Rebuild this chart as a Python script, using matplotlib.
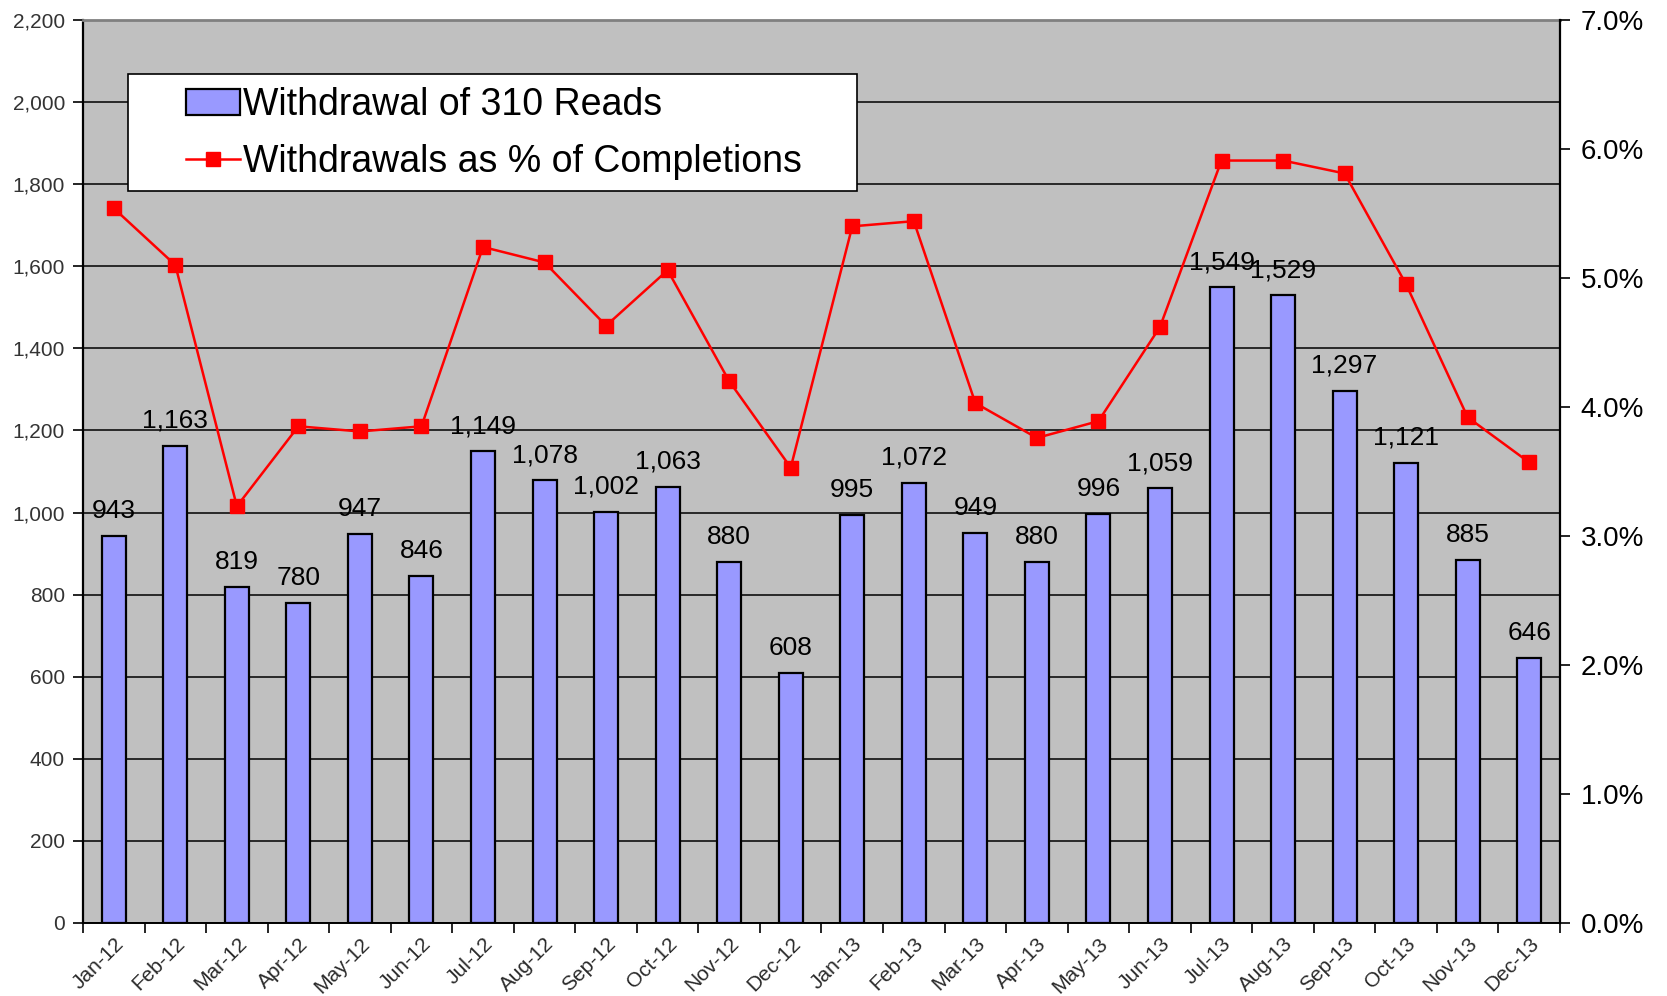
import matplotlib
matplotlib.use('Agg')
import matplotlib.pyplot as plt
import matplotlib.transforms as mtransforms
import numpy as np
from matplotlib.patches import Rectangle, Patch
from matplotlib.lines import Line2D
from matplotlib.ticker import FuncFormatter, FixedLocator

plt.rcParams['font.family'] = ['Liberation Sans', 'DejaVu Sans']

# data
months = ['Jan-12', 'Feb-12', 'Mar-12', 'Apr-12', 'May-12', 'Jun-12',
          'Jul-12', 'Aug-12', 'Sep-12', 'Oct-12', 'Nov-12', 'Dec-12',
          'Jan-13', 'Feb-13', 'Mar-13', 'Apr-13', 'May-13', 'Jun-13',
          'Jul-13', 'Aug-13', 'Sep-13', 'Oct-13', 'Nov-13', 'Dec-13']
withdrawals = [943, 1163, 819, 780, 947, 846, 1149, 1078, 1002, 1063, 880, 608,
               995, 1072, 949, 880, 996, 1059, 1549, 1529, 1297, 1121, 885, 646]
pct_completions = [5.54, 5.10, 3.23, 3.85, 3.81, 3.85, 5.24, 5.12, 4.63, 5.06, 4.20, 3.53,
                   5.40, 5.44, 4.03, 3.76, 3.89, 4.62, 5.91, 5.91, 5.81, 4.95, 3.92, 3.57]

bar_label = 'Withdrawal of 310 Reads'
line_label = 'Withdrawals as % of Completions'

x = np.arange(len(months))

fig = plt.figure(figsize=(16.67, 9.96), dpi=100)
ax = fig.add_axes([0.0498, 0.0733, 0.886, 0.9067])
ax.set_facecolor('#C0C0C0')

# bars
ax.bar(x, withdrawals, width=0.39, color='#9999FF', edgecolor='black', linewidth=1.6, zorder=2)
for xi, v in zip(x, withdrawals):
    ax.annotate(f'{v:,}', (xi, v), xytext=(0, 13), textcoords='offset points',
                ha='center', va='baseline', fontsize=19, color='black', zorder=3)

ax.set_xlim(-0.5, len(months) - 0.5)
ax.set_ylim(0, 2200)
ax.set_yticks(np.arange(0, 2201, 200))
ax.yaxis.set_major_formatter(FuncFormatter(lambda v, p: f'{int(v):,}'))
ax.grid(axis='y', color='black', linewidth=1.1)
ax.set_axisbelow(True)

# x ticks at boundaries, labels at centers
ax.xaxis.set_major_locator(FixedLocator(np.arange(-0.5, len(months), 1.0)))
ax.xaxis.set_minor_locator(FixedLocator(x))
ax.set_xticklabels([], minor=False)
ax.set_xticklabels(months, minor=True, rotation=45, ha='right', rotation_mode='anchor',
                   fontsize=15, color='#2a2a2a')
shift = mtransforms.ScaledTranslation(4 / 100, 0, fig.dpi_scale_trans)
for lbl in ax.get_xticklabels(minor=True):
    lbl.set_transform(lbl.get_transform() + shift)
ax.tick_params(axis='x', which='major', direction='out', length=7, width=1.2)
ax.tick_params(axis='x', which='minor', length=0, pad=8)
ax.tick_params(axis='y', direction='out', length=7, width=1.2, labelsize=15,
               labelcolor='#333333', pad=6)

ax.spines['top'].set_color('#808080')
ax.spines['top'].set_linewidth(2)
ax.spines['left'].set_linewidth(1.6)
ax.spines['bottom'].set_linewidth(1.4)
ax.spines['right'].set_visible(False)

# percent line on the right axis
ax2 = ax.twinx()
ax2.plot(x, pct_completions, color='#FF0000', linewidth=1.8, marker='s',
         markersize=10, markerfacecolor='#FF0000', markeredgecolor='#FF0000', zorder=4)
ax2.set_ylim(0, 7)
ax2.set_yticks(np.arange(0, 7.01, 1))
ax2.yaxis.set_major_formatter(FuncFormatter(lambda v, p: f'{v:.1f}%'))
ax2.tick_params(axis='y', direction='out', length=7, width=1.2, labelsize=20,
                labelcolor='black', pad=8)
ax2.spines['right'].set_linewidth(1.6)
ax2.spines['top'].set_visible(False)
ax2.spines['left'].set_visible(False)
ax2.spines['bottom'].set_visible(False)

# legend: white box + frameless legend inside
box = Rectangle((0.0305, 0.8106), 0.4936, 0.1294, transform=ax2.transAxes,
                facecolor='white', edgecolor='black', linewidth=1.2, zorder=10)
ax2.add_patch(box)
handles = [Patch(facecolor='#9999FF', edgecolor='black', linewidth=1.6),
           Line2D([], [], color='#FF0000', linewidth=1.8, marker='s', markersize=10)]
leg = ax2.legend(handles, [bar_label, line_label], loc='center left',
                 bbox_to_anchor=(0.0697, 0.874), frameon=False, fontsize=27,
                 handlelength=1.45, handletextpad=0.08, labelspacing=0.55,
                 borderpad=0, borderaxespad=0)
leg.set_zorder(11)

fig.savefig('out.png', dpi=100)
